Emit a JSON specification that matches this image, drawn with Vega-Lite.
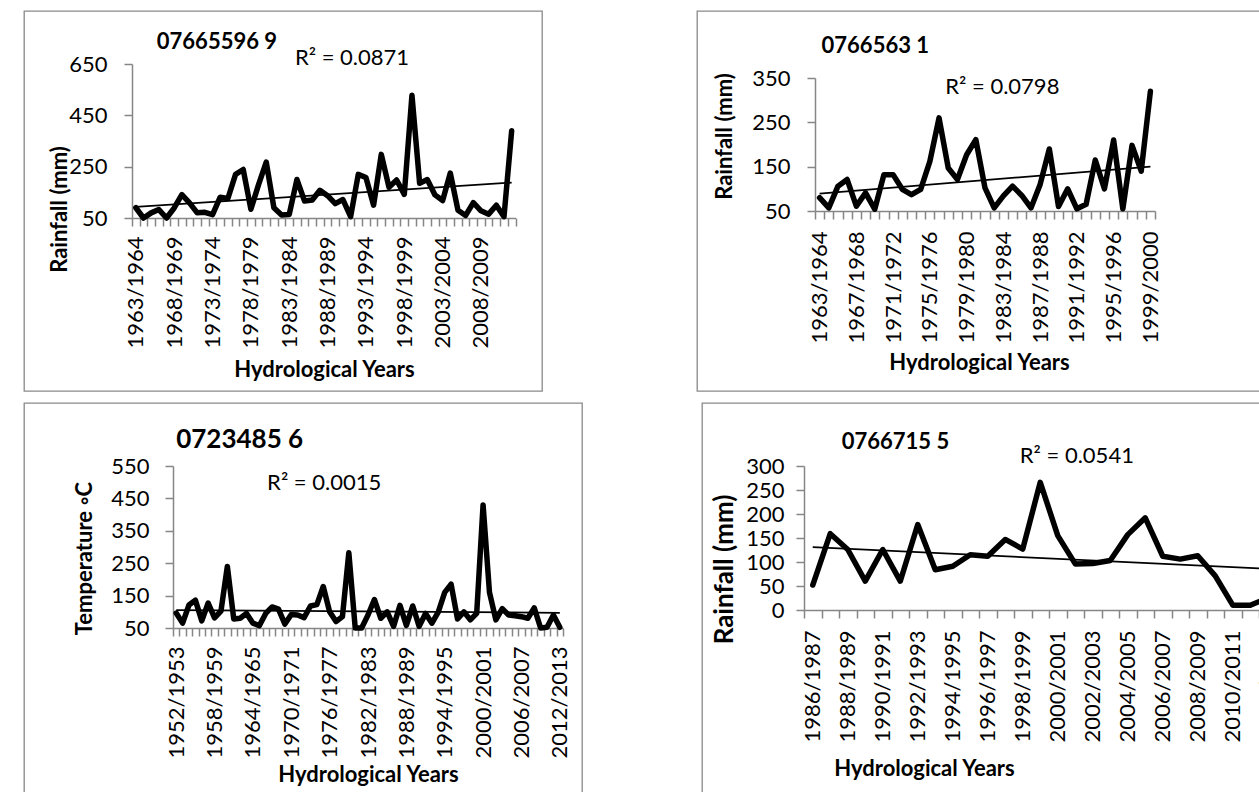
{
"$schema": "https://vega.github.io/schema/vega-lite/v6.json",
"padding": {"left": 12, "top": 10, "right": 0, "bottom": 0},
"background": "white",
"config": {
 "view": {"stroke": "#898989", "strokeWidth": 1.3},
 "axis": {"domainColor": "#868686", "tickColor": "#868686", "domainWidth": 1.5, "tickWidth": 1.5, "tickSize": 8, "labelColor": "#000", "titleColor": "#000", "labelFont": "Lato", "titleFont": "Lato", "labelFontSize": 22, "titleFontSize": 22, "titleFontWeight": "bold", "grid": false},
 "text": {"font": "Lato", "fontSize": 22, "color": "#000"},
 "line": {"color": "#000"}
},
"datasets": {
 "p1": [{"year":"1963/1964","v":90},{"year":"1964/1965","v":50},{"year":"1965/1966","v":70},{"year":"1966/1967","v":83},{"year":"1967/1968","v":50},{"year":"1968/1969","v":89},{"year":"1969/1970","v":141},{"year":"1970/1971","v":109},{"year":"1971/1972","v":70},{"year":"1972/1973","v":72},{"year":"1973/1974","v":63},{"year":"1974/1975","v":131},{"year":"1975/1976","v":126},{"year":"1976/1977","v":220},{"year":"1977/1978","v":239},{"year":"1978/1979","v":84},{"year":"1979/1980","v":180},{"year":"1980/1981","v":268},{"year":"1981/1982","v":90},{"year":"1982/1983","v":62},{"year":"1983/1984","v":64},{"year":"1984/1985","v":200},{"year":"1985/1986","v":116},{"year":"1986/1987","v":120},{"year":"1987/1988","v":158},{"year":"1988/1989","v":137},{"year":"1989/1990","v":106},{"year":"1990/1991","v":122},{"year":"1991/1992","v":55},{"year":"1992/1993","v":220},{"year":"1993/1994","v":208},{"year":"1994/1995","v":100},{"year":"1995/1996","v":298},{"year":"1996/1997","v":170},{"year":"1997/1998","v":198},{"year":"1998/1999","v":142},{"year":"1999/2000","v":528},{"year":"2000/2001","v":185},{"year":"2001/2002","v":200},{"year":"2002/2003","v":140},{"year":"2003/2004","v":118},{"year":"2004/2005","v":225},{"year":"2005/2006","v":80},{"year":"2006/2007","v":60},{"year":"2007/2008","v":110},{"year":"2008/2009","v":78},{"year":"2009/2010","v":65},{"year":"2010/2011","v":100},{"year":"2011/2012","v":55},{"year":"2012/2013","v":390}],
 "t1": [{"year":"1963/1964","v":93},{"year":"2012/2013","v":188}],
 "p2": [{"year":"1963/1964","v":80},{"year":"1964/1965","v":57},{"year":"1965/1966","v":106},{"year":"1966/1967","v":121},{"year":"1967/1968","v":61},{"year":"1968/1969","v":91},{"year":"1969/1970","v":54},{"year":"1970/1971","v":132},{"year":"1971/1972","v":132},{"year":"1972/1973","v":99},{"year":"1973/1974","v":87},{"year":"1974/1975","v":99},{"year":"1975/1976","v":162},{"year":"1976/1977","v":260},{"year":"1977/1978","v":147},{"year":"1978/1979","v":121},{"year":"1979/1980","v":177},{"year":"1980/1981","v":211},{"year":"1981/1982","v":102},{"year":"1982/1983","v":57},{"year":"1983/1984","v":84},{"year":"1984/1985","v":106},{"year":"1985/1986","v":85},{"year":"1986/1987","v":57},{"year":"1987/1988","v":110},{"year":"1988/1989","v":190},{"year":"1989/1990","v":60},{"year":"1990/1991","v":100},{"year":"1991/1992","v":55},{"year":"1992/1993","v":65},{"year":"1993/1994","v":165},{"year":"1994/1995","v":100},{"year":"1995/1996","v":210},{"year":"1996/1997","v":55},{"year":"1997/1998","v":198},{"year":"1998/1999","v":140},{"year":"1999/2000","v":320}],
 "t2": [{"year":"1963/1964","v":89},{"year":"1999/2000","v":150}],
 "p3": [{"year":"1952/1953","v":96},{"year":"1953/1954","v":65},{"year":"1954/1955","v":121},{"year":"1955/1956","v":136},{"year":"1956/1957","v":72},{"year":"1957/1958","v":127},{"year":"1958/1959","v":81},{"year":"1959/1960","v":102},{"year":"1960/1961","v":240},{"year":"1961/1962","v":78},{"year":"1962/1963","v":80},{"year":"1963/1964","v":95},{"year":"1964/1965","v":65},{"year":"1965/1966","v":57},{"year":"1966/1967","v":95},{"year":"1967/1968","v":115},{"year":"1968/1969","v":108},{"year":"1969/1970","v":62},{"year":"1970/1971","v":92},{"year":"1971/1972","v":90},{"year":"1972/1973","v":82},{"year":"1973/1974","v":118},{"year":"1974/1975","v":122},{"year":"1975/1976","v":178},{"year":"1976/1977","v":100},{"year":"1977/1978","v":70},{"year":"1978/1979","v":85},{"year":"1979/1980","v":282},{"year":"1980/1981","v":50},{"year":"1981/1982","v":50},{"year":"1982/1983","v":90},{"year":"1983/1984","v":138},{"year":"1984/1985","v":80},{"year":"1985/1986","v":100},{"year":"1986/1987","v":55},{"year":"1987/1988","v":120},{"year":"1988/1989","v":58},{"year":"1989/1990","v":118},{"year":"1990/1991","v":55},{"year":"1991/1992","v":95},{"year":"1992/1993","v":65},{"year":"1993/1994","v":100},{"year":"1994/1995","v":160},{"year":"1995/1996","v":185},{"year":"1996/1997","v":78},{"year":"1997/1998","v":100},{"year":"1998/1999","v":75},{"year":"1999/2000","v":95},{"year":"2000/2001","v":430},{"year":"2001/2002","v":160},{"year":"2002/2003","v":75},{"year":"2003/2004","v":110},{"year":"2004/2005","v":90},{"year":"2005/2006","v":88},{"year":"2006/2007","v":85},{"year":"2007/2008","v":80},{"year":"2008/2009","v":112},{"year":"2009/2010","v":50},{"year":"2010/2011","v":52},{"year":"2011/2012","v":90},{"year":"2012/2013","v":52}],
 "t3": [{"year":"1952/1953","v":105},{"year":"2012/2013","v":97}],
 "p4": [{"year":"1986/1987","v":52},{"year":"1987/1988","v":159},{"year":"1988/1989","v":126},{"year":"1989/1990","v":60},{"year":"1990/1991","v":126},{"year":"1991/1992","v":60},{"year":"1992/1993","v":178},{"year":"1993/1994","v":84},{"year":"1994/1995","v":91},{"year":"1995/1996","v":115},{"year":"1996/1997","v":112},{"year":"1997/1998","v":147},{"year":"1998/1999","v":127},{"year":"1999/2000","v":266},{"year":"2000/2001","v":155},{"year":"2001/2002","v":96},{"year":"2002/2003","v":97},{"year":"2003/2004","v":103},{"year":"2004/2005","v":157},{"year":"2005/2006","v":192},{"year":"2006/2007","v":112},{"year":"2007/2008","v":106},{"year":"2008/2009","v":113},{"year":"2009/2010","v":71},{"year":"2010/2011","v":10},{"year":"2011/2012","v":10},{"year":"2012/2013","v":25}],
 "t4": [{"year":"1986/1987","v":131},{"year":"2012/2013","v":86}]
},
"spacing": 10,
"vconcat": [
 {"spacing": 155, "bounds": "flush", "hconcat": [
  {"width": 518, "height": 380, "layer": [
   {"data": {"name": "p1"}, "mark": {"type": "line", "strokeWidth": 5.5, "strokeJoin": "round", "strokeCap": "round"},
    "encoding": {
     "x": {"field": "year", "type": "ordinal", "scale": {"type": "band", "range": [108, 491.5], "paddingInner": 0, "paddingOuter": 0},
       "axis": {"title": "Hydrological Years", "offset": -173, "labelAngle": -90, "labelPadding": 10, "tickBand": "extent", "labelOverlap": false, "labelBound": false, "labelExpr": "(toNumber(substring(datum.value,0,4))-1963)%5==0 ? datum.value : ''", "titleX": 300, "titleY": 158, "titleAlign": "center", "titleBaseline": "alphabetic"}},
     "y": {"field": "v", "type": "quantitative", "scale": {"domain": [50, 650], "range": [207, 53], "nice": false, "zero": false},
       "axis": {"title": "Rainfall (mm)", "offset": -108, "values": [50, 250, 450, 650], "labelPadding": 17, "titleX": -73, "titleY": 198, "titleAngle": -90, "titleAlign": "center", "titleBaseline": "middle"}}}},
   {"data": {"name": "t1"}, "mark": {"type": "line", "strokeWidth": 1.75}, "encoding": {"x": {"field": "year", "type": "ordinal"}, "y": {"field": "v", "type": "quantitative"}}},
   {"data": {"values": [{}]}, "mark": {"type": "text", "fontWeight": "bold", "align": "left", "baseline": "alphabetic", "dx": -2}, "encoding": {"x": {"datum": "1966/1967", "type": "ordinal"}, "y": {"datum": 708, "type": "quantitative"}, "text": {"value": "07665596 9"}}},
   {"data": {"values": [{}]}, "mark": {"type": "text", "align": "left", "baseline": "alphabetic", "dx": -2}, "encoding": {"x": {"datum": "1984/1985", "type": "ordinal"}, "y": {"datum": 646, "type": "quantitative"}, "text": {"value": "R² = 0.0871"}}}
  ]},
  {"width": 573, "height": 380, "layer": [
   {"data": {"name": "p2"}, "mark": {"type": "line", "strokeWidth": 5.5, "strokeJoin": "round", "strokeCap": "round"},
    "encoding": {
     "x": {"field": "year", "type": "ordinal", "scale": {"type": "band", "range": [118, 458], "paddingInner": 0, "paddingOuter": 0},
       "axis": {"title": "Hydrological Years", "offset": -180, "labelAngle": -90, "labelPadding": 12, "tickBand": "extent", "labelOverlap": false, "labelBound": false, "labelExpr": "(toNumber(substring(datum.value,0,4))-1963)%4==0 ? datum.value : ''", "titleX": 282, "titleY": 158, "titleAlign": "center", "titleBaseline": "alphabetic"}},
     "y": {"field": "v", "type": "quantitative", "scale": {"domain": [50, 350], "range": [200, 67], "nice": false, "zero": false},
       "axis": {"title": "Rainfall (mm)", "offset": -118, "values": [50, 150, 250, 350], "labelPadding": 17, "titleX": -91, "titleY": 125, "titleAngle": -90, "titleAlign": "center", "titleBaseline": "middle"}}}},
   {"data": {"name": "t2"}, "mark": {"type": "line", "strokeWidth": 1.75}, "encoding": {"x": {"field": "year", "type": "ordinal"}, "y": {"field": "v", "type": "quantitative"}}},
   {"data": {"values": [{}]}, "mark": {"type": "text", "fontWeight": "bold", "align": "left", "baseline": "alphabetic", "dx": 2}, "encoding": {"x": {"datum": "1963/1964", "type": "ordinal"}, "y": {"datum": 406, "type": "quantitative"}, "text": {"value": "0766563 1"}}},
   {"data": {"values": [{}]}, "mark": {"type": "text", "align": "left", "baseline": "alphabetic", "dx": -3}, "encoding": {"x": {"datum": "1977/1978", "type": "ordinal"}, "y": {"datum": 314, "type": "quantitative"}, "text": {"value": "R² = 0.0798"}}}
  ]}
 ]},
 {"spacing": 120, "bounds": "flush", "hconcat": [
  {"width": 558, "height": 400, "layer": [
   {"data": {"name": "p3"}, "mark": {"type": "line", "strokeWidth": 5.5, "strokeJoin": "round", "strokeCap": "round"},
    "encoding": {
     "x": {"field": "year", "type": "ordinal", "scale": {"type": "band", "range": [149, 539], "paddingInner": 0, "paddingOuter": 0},
       "axis": {"title": "Hydrological Years", "offset": -175, "labelAngle": -90, "labelPadding": 10, "tickBand": "extent", "labelOverlap": false, "labelBound": false, "labelExpr": "(toNumber(substring(datum.value,0,4))-1952)%6==0 ? datum.value : ''", "titleX": 344, "titleY": 153, "titleAlign": "center", "titleBaseline": "alphabetic"}},
     "y": {"field": "v", "type": "quantitative", "scale": {"domain": [50, 550], "range": [225, 63], "nice": false, "zero": false},
       "axis": {"title": "Temperature ◦C", "offset": -149, "values": [50, 150, 250, 350, 450, 550], "labelPadding": 16, "titleX": -89, "titleY": 155, "titleAngle": -90, "titleAlign": "center", "titleBaseline": "middle"}}}},
   {"data": {"name": "t3"}, "mark": {"type": "line", "strokeWidth": 1.75}, "encoding": {"x": {"field": "year", "type": "ordinal"}, "y": {"field": "v", "type": "quantitative"}}},
   {"data": {"values": [{}]}, "mark": {"type": "text", "fontWeight": "bold", "fontSize": 26, "align": "left", "baseline": "alphabetic", "dx": 0}, "encoding": {"x": {"datum": "1952/1953", "type": "ordinal"}, "y": {"datum": 605, "type": "quantitative"}, "text": {"value": "0723485 6"}}},
   {"data": {"values": [{}]}, "mark": {"type": "text", "align": "left", "baseline": "alphabetic", "dx": -5}, "encoding": {"x": {"datum": "1967/1968", "type": "ordinal"}, "y": {"datum": 476, "type": "quantitative"}, "text": {"value": "R² = 0.0015"}}}
  ]},
  {"width": 580, "height": 400, "layer": [
   {"data": {"name": "p4"}, "mark": {"type": "line", "strokeWidth": 5.5, "strokeJoin": "round", "strokeCap": "round"},
    "encoding": {
     "x": {"field": "year", "type": "ordinal", "scale": {"type": "band", "range": [102, 574.5], "paddingInner": 0, "paddingOuter": 0},
       "axis": {"title": "Hydrological Years", "offset": -193, "labelAngle": -90, "labelPadding": 12, "tickBand": "extent", "labelOverlap": false, "labelBound": false, "labelExpr": "(toNumber(substring(datum.value,0,4))-1986)%2==0 ? datum.value : ''", "titleX": 222, "titleY": 165, "titleAlign": "center", "titleBaseline": "alphabetic"}},
     "y": {"field": "v", "type": "quantitative", "scale": {"domain": [0, 300], "range": [207, 63], "nice": false, "zero": false},
       "axis": {"title": "Rainfall (mm)", "offset": -102, "values": [0, 50, 100, 150, 200, 250, 300], "labelPadding": 12, "titleFontSize": 26, "titleX": -80, "titleY": 166, "titleAngle": -90, "titleAlign": "center", "titleBaseline": "middle"}}}},
   {"data": {"name": "t4"}, "mark": {"type": "line", "strokeWidth": 1.75}, "encoding": {"x": {"field": "year", "type": "ordinal"}, "y": {"field": "v", "type": "quantitative"}}},
   {"data": {"values": [{}]}, "mark": {"type": "text", "fontWeight": "bold", "align": "left", "baseline": "alphabetic", "dx": -6}, "encoding": {"x": {"datum": "1988/1989", "type": "ordinal"}, "y": {"datum": 335, "type": "quantitative"}, "text": {"value": "0766715 5"}}},
   {"data": {"values": [{}]}, "mark": {"type": "text", "align": "left", "baseline": "alphabetic", "dx": -3}, "encoding": {"x": {"datum": "1998/1999", "type": "ordinal"}, "y": {"datum": 306, "type": "quantitative"}, "text": {"value": "R² = 0.0541"}}}
  ]}
 ]}
]
}
